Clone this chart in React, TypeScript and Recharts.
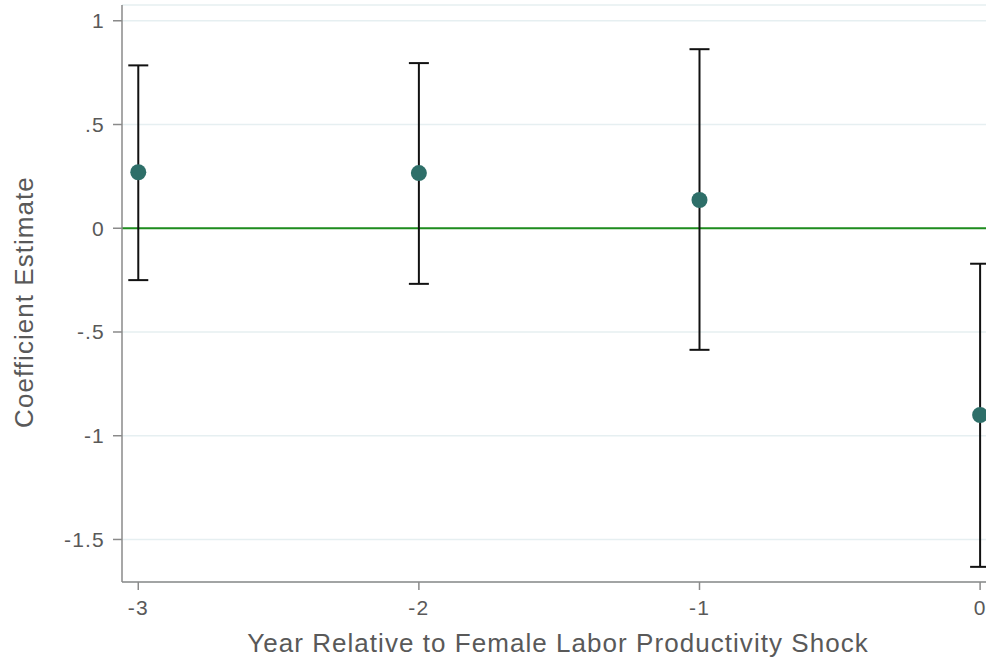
import React from "react";
import {
  CartesianGrid,
  ComposedChart,
  ErrorBar,
  ReferenceLine,
  Scatter,
  XAxis,
  YAxis,
} from "recharts";

const years = [-3, -2, -1, 0];
const estimates = [0.27, 0.266, 0.136, -0.9];
const ciLow = [-0.25, -0.268, -0.586, -1.632];
const ciHigh = [0.785, 0.796, 0.863, -0.171];

const xTicks = [-3, -2, -1, 0];
const yTicks = [-1.5, -1, -0.5, 0, 0.5, 1];

const data = years.map((year, i) => ({
  year,
  est: estimates[i],
  err: [estimates[i] - ciLow[i], ciHigh[i] - estimates[i]],
}));

const FONT = "'Liberation Sans', Arial, Helvetica, sans-serif";
const TEXT = "#595959";
const AXIS = "#8a8a8a";

function fmtY(v: number) {
  if (v === 0) return "0";
  const s = String(v);
  return s.replace(/^(-?)0\./, "$1.");
}

const tickStyle = { fontSize: 21, fill: TEXT, fontFamily: FONT, letterSpacing: 1.2 };

export default function App() {
  return (
    <div style={{ position: "absolute", left: 0, top: 0, background: "#fff" }}>
      <ComposedChart
        width={986}
        height={660}
        data={data}
        margin={{ top: 5, right: 0, bottom: 0, left: 0 }}
      >
        <CartesianGrid vertical={false} stroke="#e6eff1" strokeWidth={1.5} />
        <XAxis
          type="number"
          dataKey="year"
          domain={[-3.058, 0.021]}
          ticks={xTicks}
          allowDataOverflow
          height={78}
          tickSize={8}
          tickMargin={10}
          stroke={AXIS}
          strokeWidth={1.5}
          tick={tickStyle}
          label={{
            content: () => (
              <text
                x={558}
                y={652}
                textAnchor="middle"
                fontSize={26}
                letterSpacing={1.05}
                fill={TEXT}
                fontFamily={FONT}
              >
                Year Relative to Female Labor Productivity Shock
              </text>
            ),
          }}
        />
        <YAxis
          type="number"
          domain={[-1.705, 1.076]}
          ticks={yTicks}
          allowDataOverflow
          width={122}
          tickSize={9}
          tickMargin={8}
          tickFormatter={fmtY}
          stroke={AXIS}
          strokeWidth={1.5}
          tick={tickStyle}
          label={{
            content: () => (
              <text
                transform="translate(33,302) rotate(-90)"
                textAnchor="middle"
                fontSize={26}
                letterSpacing={1.05}
                fill={TEXT}
                fontFamily={FONT}
              >
                Coefficient Estimate
              </text>
            ),
          }}
        />
        <ReferenceLine y={0} stroke="#1e8c1e" strokeWidth={2} />
        <Scatter
          dataKey="est"
          fill="#2e6f69"
          isAnimationActive={false}
          shape={(p: any) => <circle cx={p.cx} cy={p.cy} r={8} fill="#2e6f69" />}
        >
          <ErrorBar
            dataKey="err"
            direction="y"
            width={10}
            stroke="#111"
            strokeWidth={2}
            isAnimationActive={false}
          />
        </Scatter>
      </ComposedChart>
    </div>
  );
}
